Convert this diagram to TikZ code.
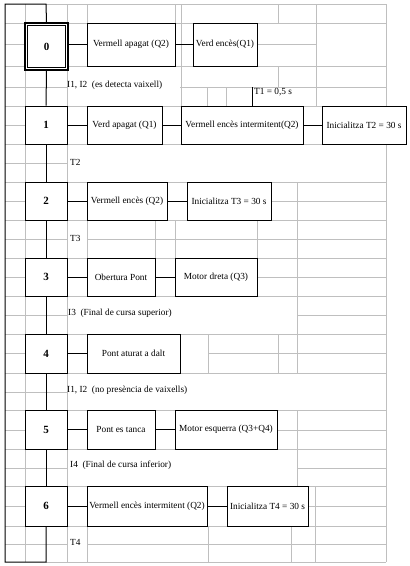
\documentclass[tikz,border=0pt]{standalone}
\usepackage{fontspec}
\setmainfont{Liberation Serif}
\begin{document}
\begin{tikzpicture}[x=1pt,y=-1pt,
  grid/.style={draw=gray!50,line width=0.9pt},
  link/.style={draw=black,line width=1pt},
  stepbox/.style={draw,line width=1pt,fill=white,minimum width=42pt,minimum height=38pt,inner sep=0pt,font=\fontsize{11}{13}\selectfont\bfseries},
  actbox/.style={draw,line width=1pt,fill=white,inner sep=0pt,font=\fontsize{9.3}{11}\selectfont},
  lbl/.style={anchor=west,inner sep=1pt,font=\fontsize{9.3}{11}\selectfont}]
\useasboundingbox (0,0) rectangle (410,566);
% ---------- background grid ----------
\foreach \y in {23,66,106,144,182,220,258,296,334,373,410,449,486,526} \draw[grid] (5,\y) -- (386,\y);
\foreach \y in {44,125,201,277,353,430,506} \draw[grid] (5,\y) -- (25,\y);
\foreach \y in {87,163,239,315,392,468,544} \draw[grid] (5,\y) -- (67,\y);
\draw[grid] (46,4) -- (386,4);
\draw[grid] (257,44) -- (316,44);
\draw[grid] (180,87) -- (386,87);
\draw[grid] (271,201) -- (386,201);
\draw[grid] (87,239) -- (386,239);
\draw[grid] (257,277) -- (386,277);
\draw[grid] (297,315) -- (386,315);
\draw[grid] (208,353) -- (386,353);
\draw[grid] (277,430) -- (386,430);
\draw[grid] (297,468) -- (386,468);
\draw[grid] (308,506) -- (386,506);
\draw[grid] (87,544) -- (386,544);
\draw[grid] (46,562) -- (386,562);
\draw[grid] (25,4) -- (25,562);
\draw[grid] (67,4) -- (67,562);
\draw[grid] (386,4) -- (386,562);
\draw[grid] (87,4) -- (87,23);
\draw[grid] (87,220) -- (87,258);
\draw[grid] (87,526) -- (87,562);
\draw[grid] (155,220) -- (155,258);
\draw[grid] (175,4) -- (175,66);
\draw[grid] (175,220) -- (175,258);
\draw[grid] (181,4) -- (181,106);
\draw[grid] (207,87) -- (207,106);
\draw[grid] (226,87) -- (226,106);
\draw[grid] (208,334) -- (208,373);
\draw[grid] (208,526) -- (208,562);
\draw[grid] (257,220) -- (257,258);
\draw[grid] (278,4) -- (278,23);
\draw[grid] (278,66) -- (278,87);
\draw[grid] (278,334) -- (278,373);
\draw[grid] (291,526) -- (291,562);
\draw[grid] (297,182) -- (297,373);
\draw[grid] (297,410) -- (297,486);
\draw[grid] (316,4) -- (316,106);
\draw[grid] (315,486) -- (315,562);
% ---------- steps ----------
\node[stepbox,line width=2pt,minimum width=43pt,minimum height=47pt] (s0) at (46.5,46.5) {0};
\draw[line width=0.8pt] ([shift={(3.5,3.5)}]s0.north west) rectangle ([shift={(-3.5,-3.5)}]s0.south east);
\node[stepbox] (s1) at (46,125) {1};
\node[stepbox] (s2) at (46,201) {2};
\node[stepbox] (s3) at (46,277) {3};
\node[stepbox,minimum height=39pt] (s4) at (46,353.5) {4};
\node[stepbox,minimum height=39pt] (s5) at (46,429.5) {5};
\node[stepbox,minimum height=40pt] (s6) at (46,506) {6};
% ---------- actions ----------
\node[actbox,minimum width=88pt,minimum height=43pt] (a0a) at (131,44.5) {Vermell apagat (Q2)};
\node[actbox,minimum width=64pt,minimum height=43pt] (a0b) at (225,44.5) {Verd encès(Q1)};
\node[actbox,minimum width=75pt,minimum height=38pt] (a1a) at (124.5,125) {Verd apagat (Q1)};
\node[actbox,minimum width=122pt,minimum height=38pt] (a1b) at (242,125) {Vermell encès intermitent(Q2)};
\node[actbox,minimum width=84pt,minimum height=38pt] (a1c) at (364,125) {Inicialitza T2 = 30 s};
\node[actbox,minimum width=80pt,minimum height=38pt] (a2a) at (127,201) {Vermell encès (Q2)};
\node[actbox,minimum width=84pt,minimum height=38pt] (a2b) at (229,201) {Inicialitza T3 = 30 s};
\node[actbox,minimum width=68pt,minimum height=38pt] (a3a) at (121,277) {Obertura Pont};
\node[actbox,minimum width=82pt,minimum height=38pt] (a3b) at (216,277) {Motor dreta (Q3)};
\node[actbox,minimum width=93pt,minimum height=39pt] (a4a) at (133.5,353.5) {Pont aturat a dalt};
\node[actbox,minimum width=68pt,minimum height=39pt] (a5a) at (121,429.5) {Pont es tanca};
\node[actbox,minimum width=102pt,minimum height=39pt] (a5b) at (226,429.5) {Motor esquerra (Q3+Q4)};
\node[actbox,minimum width=120pt,minimum height=40pt] (a6a) at (147,506) {Vermell encès intermitent (Q2)};
\node[actbox,minimum width=81pt,minimum height=40pt] (a6b) at (267.5,506) {Inicialitza T4 = 30 s};
% ---------- action connectors ----------
\draw[link] (s0.east |- a0a.west) -- (a0a.west);
\draw[link] (a0a.east) -- (a0b.west);
\draw[link] (s1.east) -- (a1a.west);
\draw[link] (a1a.east) -- (a1b.west);
\draw[link] (a1b.east) -- (a1c.west);
\draw[link] (s2.east) -- (a2a.west);
\draw[link] (a2a.east) -- (a2b.west);
\draw[link] (s3.east) -- (a3a.west);
\draw[link] (a3a.east) -- (a3b.west);
\draw[link] (s4.east) -- (a4a.west);
\draw[link] (s5.east) -- (a5a.west);
\draw[link] (a5a.east) -- (a5b.west);
\draw[link] (s6.east) -- (a6a.west);
\draw[link] (a6a.east) -- (a6b.west);
% ---------- step links ----------
\coordinate (top) at (46,4);
\coordinate (tl) at (5,4);
\coordinate (bl) at (5,562);
\coordinate (bot) at (46,562);
\draw[link] (s6.south) -- (bot) -- (bl) -- (tl) -- (top) -- (s0.north);
\draw[link] (s0.south) -- (s1.north);
\draw[link] (s1.south) -- (s2.north);
\draw[link] (s2.south) -- (s3.north);
\draw[link] (s3.south) -- (s4.north);
\draw[link] (s4.south) -- (s5.north);
\draw[link] (s5.south) -- (s6.north);
% ---------- timer T1 ----------
\coordinate (t1) at (252,87);
\draw[link] (t1) -- (t1 |- a1b.north);
\node[lbl] (lt1) at (253,92) {T1 = 0,5 s};
% ---------- transition labels ----------
\node[lbl] (l01) at (66,85) {I1, I2\ \ (es detecta vaixell)};
\node[lbl] (l12) at (69,162) {T2};
\node[lbl] (l23) at (69,238) {T3};
\node[lbl] (l34) at (67,313) {I3\ \ (Final de cursa superior)};
\node[lbl] (l45) at (66,390) {I1, I2\ \ (no presència de vaixells)};
\node[lbl] (l56) at (69,465) {I4\ \ (Final de cursa inferior)};
\node[lbl] (l60) at (69,542) {T4};
\end{tikzpicture}
\end{document}
